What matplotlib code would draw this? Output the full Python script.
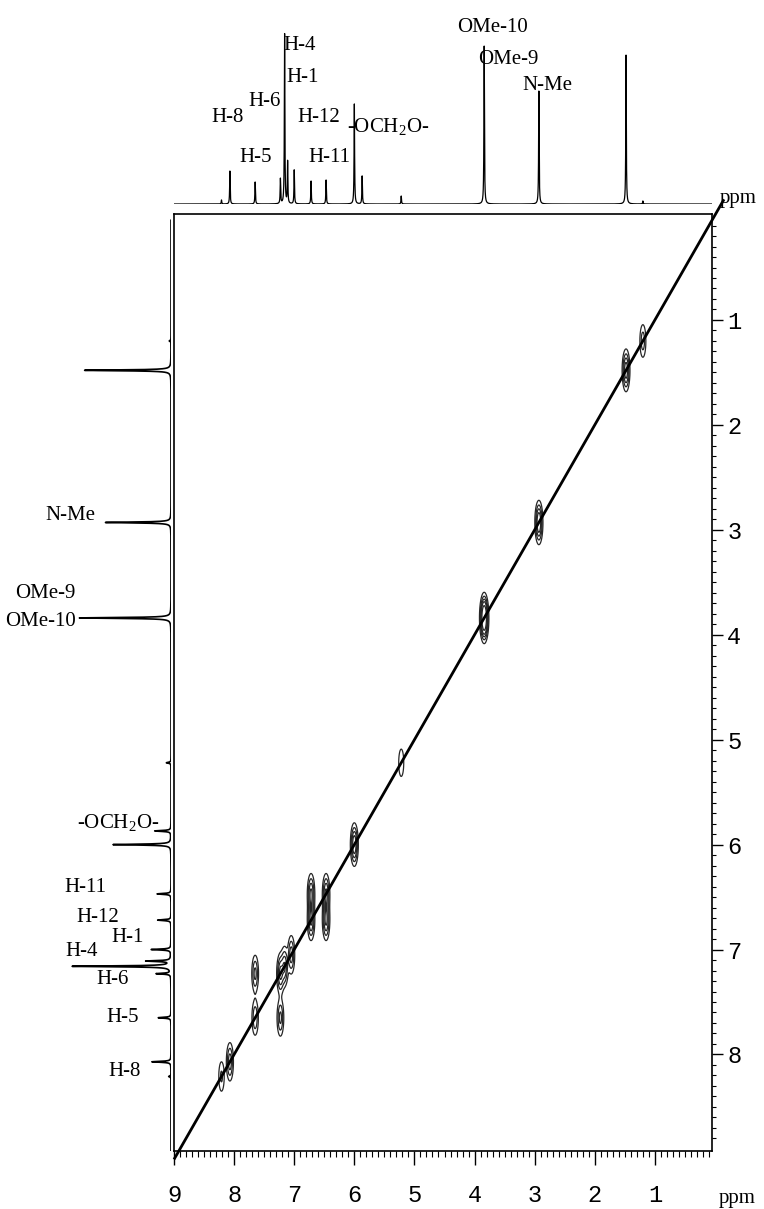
import numpy as np
import matplotlib
matplotlib.use("Agg")
import matplotlib.pyplot as plt

# 1H trace: shift (ppm) and peak height
shift_ppm = [8.21, 8.07, 7.65, 7.23, 7.16, 7.11, 7.00, 6.72, 6.47,
             6.00, 5.87, 5.22, 3.84, 2.93, 1.48, 1.20]
height = [4, 33, 22, 25, 170, 42, 34, 23, 24,
          100, 28, 8, 158, 113, 149, 3]

# COSY contour peaks (F2, F1, relative amplitude)
cosy_x = [8.21, 8.07, 7.65, 7.23, 7.16, 7.05, 6.72, 6.47, 6.00, 5.22,
          3.84, 2.93, 1.48, 1.20, 6.72, 6.47, 7.65, 7.23]
cosy_y = [8.21, 8.07, 7.65, 7.23, 7.16, 7.05, 6.72, 6.47, 6.00, 5.22,
          3.84, 2.93, 1.48, 1.20, 6.47, 6.72, 7.23, 7.65]
cosy_amp = [0.4, 0.8, 0.6, 1.0, 0.9, 0.8, 1.0, 1.0, 1.3, 0.35,
            3.0, 1.4, 1.2, 0.5, 1.0, 1.0, 0.7, 0.7]

# peak labels
top_labels = ["H-8", "H-6", "H-5", "H-4", "H-1", "H-12", "H-11",
              "-OCH$_\\mathregular{2}$O-", "OMe-10", "OMe-9", "N-Me"]
left_labels = ["N-Me", "OMe-9", "OMe-10", "-OCH$_\\mathregular{2}$O-", "H-11",
               "H-12", "H-1", "H-4", "H-6", "H-5", "H-8"]
x_ticks = [9, 8, 7, 6, 5, 4, 3, 2, 1]
y_ticks = [1, 2, 3, 4, 5, 6, 7, 8]

# ---- layout (pixels of the 764x1209 picture) ----
W, H = 764, 1209
XLIM = (9.0, 0.05)
YLIM = (8.92, -0.01)
top_label_pos = [(228, 118), (265, 102), (256, 157), (300, 45), (303, 78), (319, 117),
                 (329, 157), (388, 127), (493, 27), (508, 60), (547, 86)]
left_label_pos = [(70, 515), (45, 593), (40, 622), (118, 823), (85, 887), (98, 917),
                  (128, 938), (82, 952), (113, 980), (123, 1018), (125, 1072)]


def box(x0, y0, x1, y1):
    # pixel box -> figure fraction [left, bottom, width, height]
    return [x0 / W, 1 - y1 / H, (x1 - x0) / W, (y1 - y0) / H]


lab_font = "Liberation Serif"
num_font = "Liberation Mono"
lab_size = 15

fig = plt.figure(figsize=(W / 100, H / 100), dpi=100)
ax = fig.add_axes(box(174, 214, 712, 1151))
ax_top = fig.add_axes(box(174, 20, 712, 204))
ax_left = fig.add_axes(box(0, 214, 171, 1151))

# 1D trace built from lorentzian lines
xs = np.linspace(XLIM[0], XLIM[1], 12000)
trace = np.zeros_like(xs)
hw = 0.005
for s, h in zip(shift_ppm, height):
    trace += h * hw ** 2 / ((xs - s) ** 2 + hw ** 2)

ax_top.plot(xs, trace, color="black", lw=0.9)
ax_top.set_xlim(XLIM)
ax_top.set_ylim(0, 184)
ax_top.axis("off")

ax_left.plot(trace, xs, color="black", lw=1.2)
ax_left.set_xlim(171 / 0.58, 0)
ax_left.set_ylim(YLIM)
ax_left.axis("off")

# 2D contours
gx = np.linspace(XLIM[0], XLIM[1], 1400)
gy = np.linspace(YLIM[1], YLIM[0], 900)
Z = np.zeros((gy.size, gx.size))
sx, sy = 0.032, 0.1
for cx, cy, a in zip(cosy_x, cosy_y, cosy_amp):
    Z += a * np.outer(np.exp(-0.5 * ((gy - cy) / sy) ** 2),
                      np.exp(-0.5 * ((gx - cx) / sx) ** 2))
ax.contour(gx, gy, Z, levels=[0.15, 0.35, 0.6, 0.9, 1.5], colors="0.15", linewidths=0.9)

# diagonal
diag = [9.0, -0.15]
ax.plot(diag, diag, color="black", lw=2.0, clip_on=False, solid_capstyle="butt")

ax.set_xlim(XLIM)
ax.set_ylim(YLIM)
for sp in ax.spines.values():
    sp.set_linewidth(1.2)
ax.set_xticks(x_ticks)
ax.set_xticklabels([str(t) for t in x_ticks], fontfamily=num_font, fontsize=17)
ax.set_xticks(np.arange(0.1, 9.0, 0.1), minor=True)
ax.yaxis.tick_right()
ax.set_yticks(y_ticks)
ax.set_yticklabels([str(t) for t in y_ticks], fontfamily=num_font, fontsize=17)
ax.set_yticks(np.arange(0.1, 8.9, 0.1), minor=True)
ax.tick_params(axis="x", which="major", direction="out", length=10, width=1, pad=14)
ax.tick_params(axis="x", which="minor", direction="out", length=4, width=0.8)
ax.tick_params(axis="y", which="major", direction="out", length=8, width=1, pad=3)
ax.tick_params(axis="y", which="minor", direction="out", length=3, width=0.8)

fig.text(737 / W, 1 - 1198 / H, "ppm", fontfamily=lab_font, fontsize=lab_size,
         ha="center", va="center")
fig.text(738 / W, 1 - 198 / H, "ppm", fontfamily=lab_font, fontsize=lab_size,
         ha="center", va="center")

for txt, (px, py) in zip(top_labels, top_label_pos):
    fig.text(px / W, 1 - py / H, txt, fontfamily=lab_font, fontsize=lab_size,
             ha="center", va="center")
for txt, (px, py) in zip(left_labels, left_label_pos):
    fig.text(px / W, 1 - py / H, txt, fontfamily=lab_font, fontsize=lab_size,
             ha="center", va="center")

fig.savefig("out.png", dpi=100)
